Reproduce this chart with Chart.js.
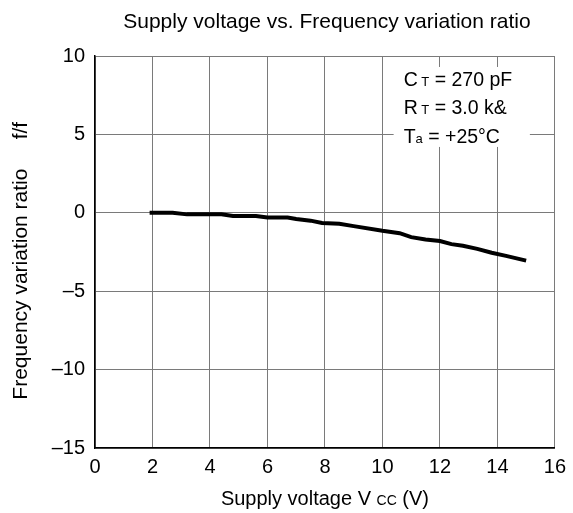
<!DOCTYPE html>
<html>
<head>
<meta charset="utf-8">
<script src="https://cdn.jsdelivr.net/npm/chart.js@4/dist/chart.umd.min.js"></script>
<style>
  html, body { margin: 0; padding: 0; background: #fff; }
  #wrap { width: 573px; height: 513px; }
</style>
</head>
<body>
<div id="wrap"><canvas id="myChart" width="573" height="513"></canvas></div>
<script>
// Supply voltage (V)
var vcc = [1.9, 2.7, 3.2, 4.4, 4.8, 5.6, 6.0, 6.7, 7.0, 7.5, 7.9, 8.5, 9.0, 10.0, 10.6, 11.0, 11.5, 12.0, 12.4, 12.8, 13.3, 13.8, 14.3, 15.0]
// Frequency variation ratio (%)
var ratio = [0, 0, -0.1, -0.1, -0.2, -0.2, -0.3, -0.3, -0.4, -0.5, -0.65, -0.7, -0.85, -1.15, -1.3, -1.55, -1.7, -1.8, -2.0, -2.1, -2.3, -2.55, -2.75, -3.05]

var xTicks = [0, 2, 4, 6, 8, 10, 12, 14, 16]
var yTicks = [-15, -10, -5, 0, 5, 10]
var noteLines = [["C", " T", " = 270 pF"], ["R", " T", " = 3.0 k&"], ["T", "a", " = +25°C"]]
var xTitle = ["Supply voltage V ", "CC", " (V)"]
var chartTitle = "Supply voltage vs. Frequency variation ratio"

var font = "'Liberation Sans', Arial, sans-serif"

// Text mit kleinem Index schreiben
function drawSub(ctx, parts, x, y, big, small, align) {
    ctx.font = big + "px " + font
    var w0 = ctx.measureText(parts[0]).width
    var w2 = ctx.measureText(parts[2]).width
    ctx.font = small + "px " + font
    var w1 = ctx.measureText(parts[1]).width
    if (align == "center") x = x - (w0 + w1 + w2) / 2
    ctx.textAlign = "left"
    ctx.font = big + "px " + font
    ctx.fillText(parts[0], x, y)
    ctx.font = small + "px " + font
    ctx.fillText(parts[1], x + w0, y)
    ctx.font = big + "px " + font
    ctx.fillText(parts[2], x + w0 + w1, y)
}

//Plugin fuer Titel, Textkasten und x-Achsentitel
var notePlugin = {
    id: "note",
    afterDatasetsDraw: function(chart) {
        var ctx = chart.ctx
        var x = chart.scales.x
        var y = chart.scales.y
        var left = x.getPixelForValue(10.39)
        var right = x.getPixelForValue(15.13)
        var top = y.getPixelForValue(9.3)
        var bottom = y.getPixelForValue(4.2)
        ctx.save()
        ctx.fillStyle = "#fff"
        ctx.fillRect(left, top, right - left, bottom - top)
        ctx.fillStyle = "#000"
        ctx.textBaseline = "alphabetic"
        var ty = top + 19
        noteLines.forEach(function(l) {
            drawSub(ctx, l, left + 10, ty, 19.5, 13, "left")
            ty += 28.4
        })
        var cx = (chart.chartArea.left + chart.chartArea.right) / 2
        drawSub(ctx, xTitle, cx, 505, 20, 14, "center")
        ctx.font = "21px " + font
        ctx.textAlign = "center"
        ctx.fillText(chartTitle, cx + 2, 28)
        ctx.restore()
    }
}

var ctx = document.getElementById("myChart").getContext("2d")

var data = {
    datasets: [
        {
            data: vcc.map(function(v, i) { return { x: v, y: ratio[i] } }),
            borderColor: "#000",
            borderWidth: 4,
            pointRadius: 0,
            tension: 0,
            fill: false
        }
    ]
}

var config = {
    type: "line",
    data: data,
    options: {
        responsive: false,
        animation: false,
        layout: { padding: { top: 56, right: 16, left: 0, bottom: 0 } },
        plugins: {
            legend: { display: false },
            tooltip: { enabled: false },
            title: { display: false }
        },
        scales: {
            x: {
                type: "linear",
                min: 0,
                max: 16,
                afterBuildTicks: function(s) { s.ticks = xTicks.map(function(v) { return { value: v } }) },
                afterFit: function(s) { s.height = 65 },
                grid: { color: "#7a7a7a", lineWidth: 1, drawTicks: false },
                border: { color: "#000", width: 1.5 },
                ticks: { color: "#000", font: { family: font, size: 20 }, padding: 7, maxRotation: 0 }
            },
            y: {
                type: "linear",
                min: -15,
                max: 10,
                afterBuildTicks: function(s) { s.ticks = yTicks.map(function(v) { return { value: v } }) },
                afterFit: function(s) { s.width = 95 },
                grid: { color: "#7a7a7a", lineWidth: 1, drawTicks: false },
                border: { color: "#000", width: 1.5 },
                ticks: {
                    color: "#000",
                    font: { family: font, size: 20 },
                    padding: 10,
                    callback: function(v) { return v < 0 ? "\u2013" + Math.abs(v) : v }
                },
                title: {
                    display: true,
                    text: "Frequency variation ratio     f/f   ",
                    color: "#000",
                    font: { family: font, size: 21 },
                    padding: { top: 9, bottom: 0 }
                }
            }
        }
    },
    plugins: [notePlugin]
}

var myChart = new Chart(ctx, config)
</script>
</body>
</html>
